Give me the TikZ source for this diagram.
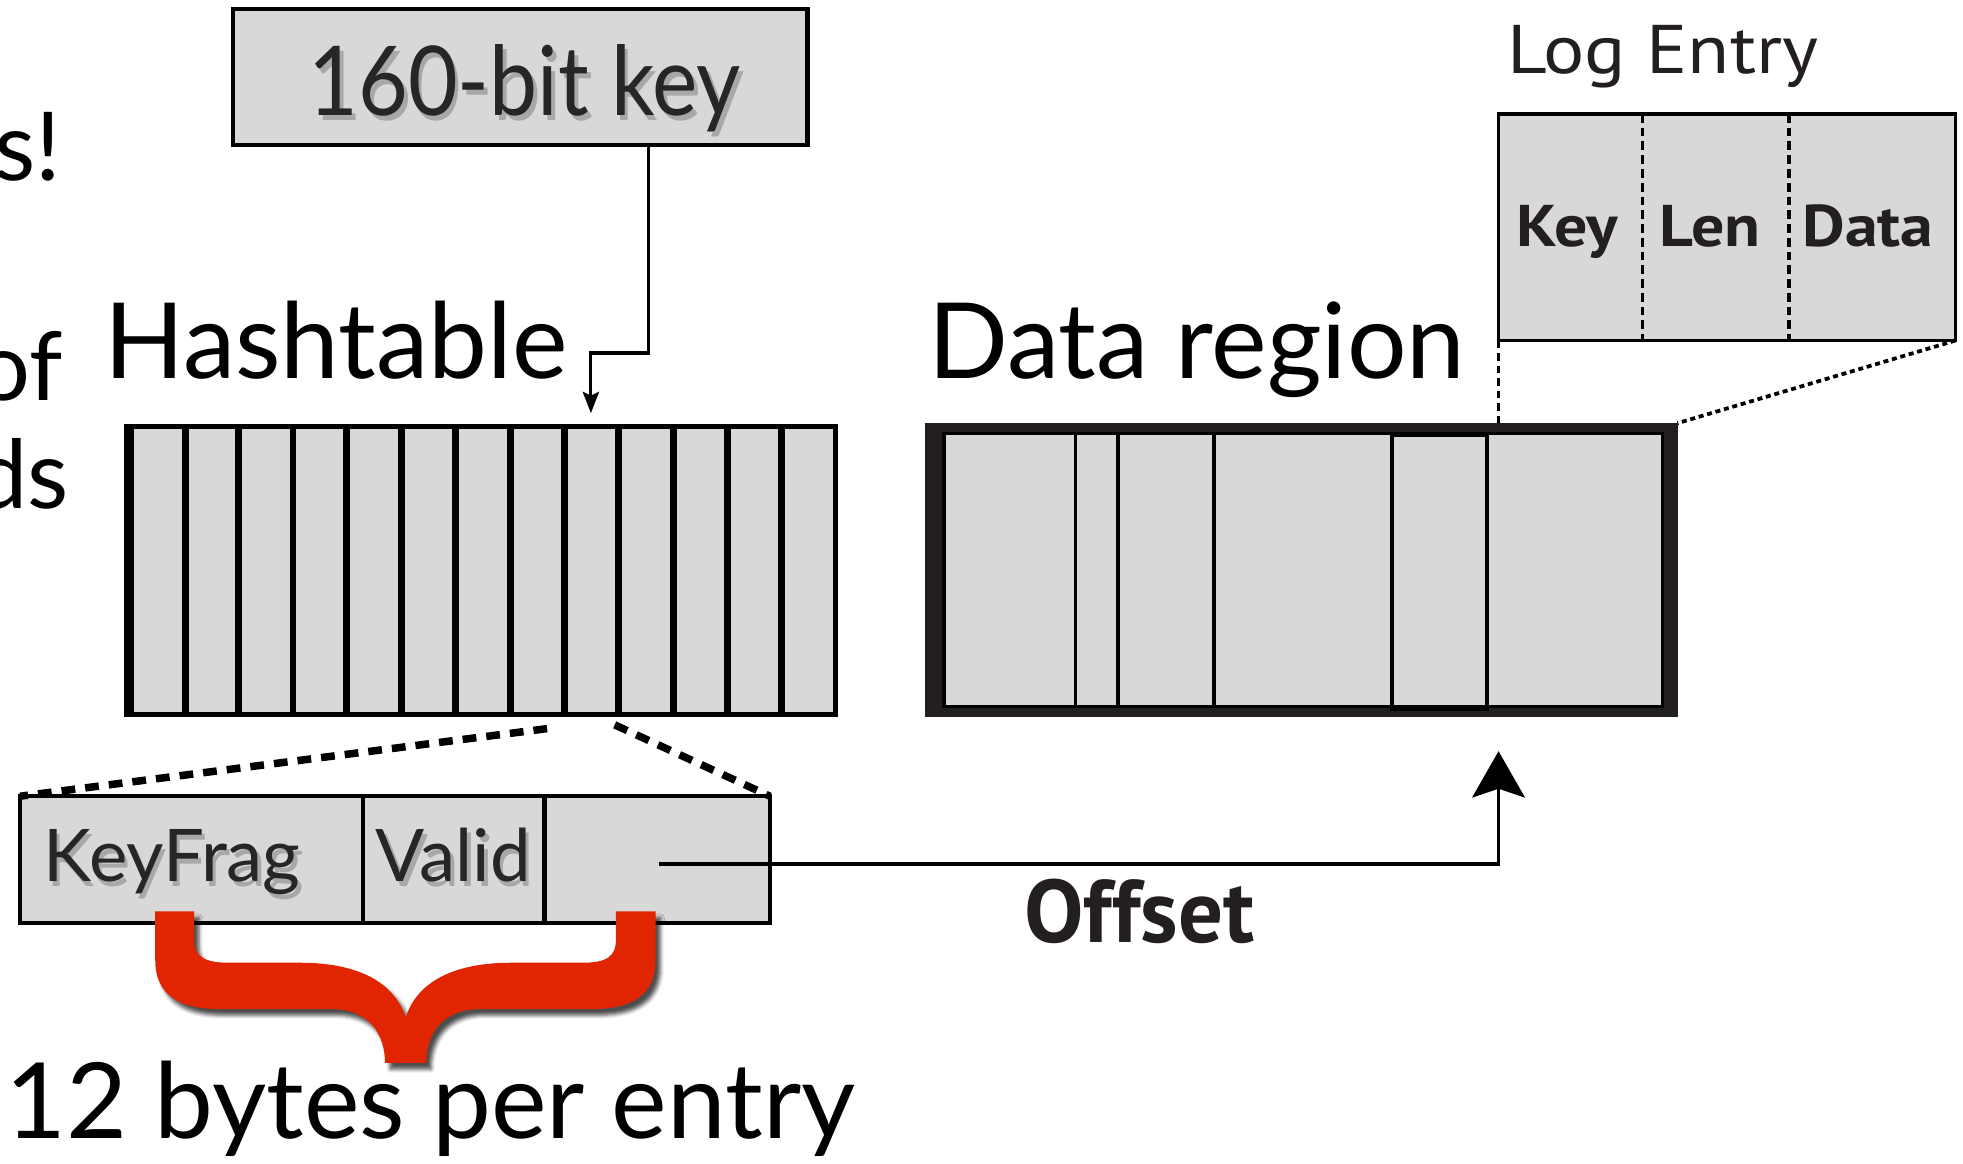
\documentclass[tikz,border=0pt]{standalone}
\usepackage{fontspec}
\setmainfont{Lato}
\newfontfamily\gillf{Lato}
\newfontfamily\gillnarrow[FakeStretch=0.89]{Lato}
\newfontfamily\myriadf{PT Sans}
\newfontfamily\myriadwide[FakeStretch=1.12]{PT Sans}
\usetikzlibrary{arrows.meta,shadows.blur}
\definecolor{boxgray}{RGB}{216,216,216}
\definecolor{ink}{RGB}{35,31,32}
\definecolor{txtdark}{RGB}{38,38,38}
\definecolor{bracered}{RGB}{224,37,0}
\tikzset{
  graybox/.style={draw=black, fill=boxgray, inner sep=0pt, outer sep=0pt, anchor=north west},
  lbl/.style={inner sep=0pt, outer sep=0pt, anchor=base},
  bigtxt/.style={lbl, font=\gillf\fontsize{84pt}{90pt}\selectfont},
  slidetxt/.style={lbl, anchor=base east, font=\gillf\fontsize{76pt}{80pt}\selectfont},
  keyfont/.style={lbl, font=\gillnarrow\fontsize{77pt}{80pt}\selectfont, text=txtdark},
  fieldfont/.style={lbl, font=\gillf\fontsize{58pt}{62pt}\selectfont, text=txtdark},
  txtshadow/.style={text=black, text opacity=0.22},
  boldbig/.style={lbl, font=\myriadf\bfseries\fontsize{71pt}{74pt}\selectfont, text=ink},
  boldsmall/.style={lbl, font=\myriadwide\bfseries\fontsize{47pt}{50pt}\selectfont, text=ink},
  logfont/.style={lbl, font=\myriadwide\fontsize{55pt}{60pt}\selectfont, text=ink},
  bigdash/.style={line width=6pt, dash pattern=on 11pt off 8pt},
}
\begin{document}
\begin{tikzpicture}[x=1pt,y=-1pt]
\useasboundingbox (0,0) rectangle (1568,929);

% cut-off slide text at the left edge
\node[slidetxt] (s1) at (49,144) {s!};
\node[slidetxt] (s2) at (50,320) {of};
\node[slidetxt] (s3) at (55,406) {ds};

% 160-bit key
\node[graybox, line width=3.5pt, minimum width=459pt, minimum height=109pt] (keybox) at (186,7) {};
\node[keyfont, txtshadow] at (422,96) {160-bit key};
\node[keyfont] (keytxt) at (419,92) {160-bit key};

% Hashtable
\node[bigtxt] (htlabel) at (268.5,302) {Hashtable};
\node[graybox, line width=4pt, minimum width=566pt, minimum height=230pt] (ht) at (101,341) {};
\draw[line width=4pt] (105,0 |- ht.north) -- (105,0 |- ht.south);
\foreach \x in {148,190.5,234,277,321,364,408,451,494,538,581,624}
  \draw[line width=5.5pt] (\x,0 |- ht.north) -- (\x,0 |- ht.south);

% key -> hashtable
\coordinate (kturn) at (472,282);
\draw[line width=2.5pt, -{Stealth[length=17pt,width=13pt,inset=3pt]}, shorten >=11pt]
  (518,0 |- keybox.south) |- (kturn) -- (kturn |- ht.north);

% entry
\node[graybox, line width=3pt, minimum width=599pt, minimum height=101pt] (entry) at (16,636) {};
\draw[line width=3.5pt] (290,0 |- entry.north) -- (290,0 |- entry.south);
\draw[line width=3.5pt] (435,0 |- entry.north) -- (435,0 |- entry.south);
\node[fieldfont, txtshadow] at (140,708) {KeyFrag};
\node[fieldfont] (kf) at (137.5,704.5) {KeyFrag};
\node[fieldfont, txtshadow] at (365,708) {Valid};
\node[fieldfont] (valid) at (362,704.5) {Valid};

\coordinate (htL) at (437,582);
\coordinate (htR) at (491,579);
\draw[bigdash] (htL) -- (entry.north west);
\draw[bigdash] (htR) -- (entry.north east);

% Data region
\node[bigtxt] (drlabel) at (956,302) {Data region};
\node[fill=ink, inner sep=0pt, outer sep=0pt, minimum width=601pt, minimum height=235pt, anchor=north west] (dr) at (739,338) {};
\draw[line width=2.5pt, fill=boxgray] (754,346) rectangle (1328,564);
\foreach \x in {859,893,970,1188}
  \draw[line width=3pt] (\x,346) -- (\x,564);
\draw[line width=3.5pt] (1112,347.5) rectangle (1188,566);

% Offset arrow
\coordinate (offstart) at (526,690);
\coordinate (offend) at (1197,600);
\draw[line width=3pt, -{Stealth[length=37pt,width=42pt,inset=7pt]}] (offstart) -| (offend);
\node[boldbig] (offlbl) at (910,753) {Offset};

% Log entry
\node[logfont] (lelabel) at (1328.5,58.6) {Log Entry};
\node[graybox, line width=2.7pt, minimum width=365pt, minimum height=181pt] (le) at (1197,91) {};
\draw[line width=2.5pt, dash pattern=on 7pt off 4pt] (1312,0 |- le.north) -- (1312,0 |- le.south);
\draw[line width=2.5pt, dash pattern=on 7pt off 4pt] (1429,0 |- le.north) -- (1429,0 |- le.south);
\node[boldsmall] (lekey) at (1252,197) {Key};
\node[boldsmall] (lelen) at (1366,197) {Len};
\node[boldsmall] (ledata) at (1492,197) {Data};
\draw[line width=2pt, dash pattern=on 6pt off 4pt] (le.south west) -- (le.south west |- dr.north);
\draw[line width=3pt, dash pattern=on 4pt off 3pt] (le.south east) -- (dr.north east);

% red brace
\fill[bracered, blur shadow={shadow xshift=4pt, shadow yshift=-5pt, shadow blur radius=3pt, shadow opacity=70}]
  (124,728) -- (124,767)
  .. controls (124,796) and (145,806) .. (175,806)
  -- (264,806)
  .. controls (295,806) and (307.5,826) .. (307.5,849)
  -- (340.5,849)
  .. controls (340.5,826) and (353,806) .. (384,806)
  -- (473,806)
  .. controls (503,806) and (523.6,796) .. (523.6,767)
  -- (523.6,728) -- (492,728) -- (492,750)
  .. controls (492,764) and (485,769) .. (465,769)
  -- (408,769)
  .. controls (363,769) and (333,784) .. (324,813)
  .. controls (315,784) and (285,769) .. (240,769)
  -- (183,769)
  .. controls (163,769) and (155,764) .. (155,750)
  -- (155,728) -- cycle;

\node[bigtxt] (bytes) at (344,909) {12 bytes per entry};
\end{tikzpicture}
\end{document}
